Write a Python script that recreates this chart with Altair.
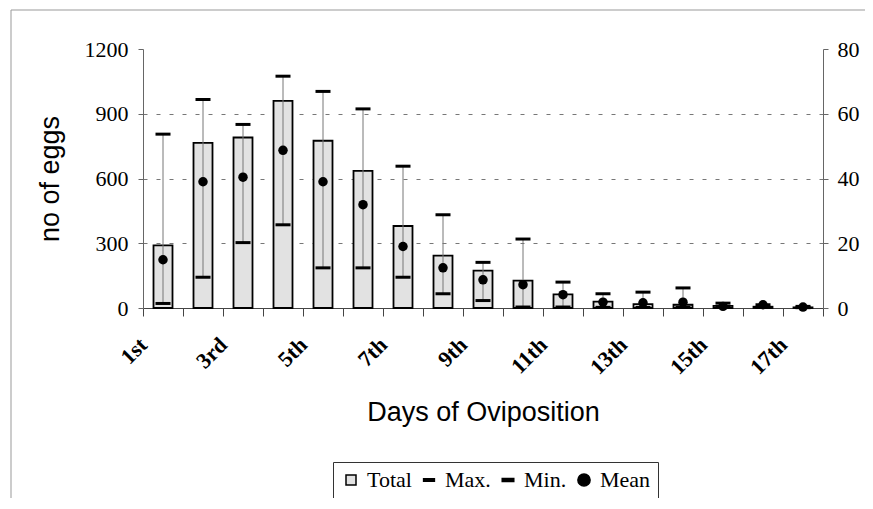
import json
import altair as alt
import pandas as pd

days = ["1st", "2nd", "3rd", "4th", "5th", "6th", "7th", "8th", "9th", "10th",
        "11th", "12th", "13th", "14th", "15th", "16th", "17th"]
shown_labels = ["1st", "3rd", "5th", "7th", "9th", "11th", "13th", "15th", "17th"]
total = [290, 765, 790, 960, 775, 635, 380, 243, 173, 127, 63, 30, 18, 15, 10, 6, 3]
max_vals = [53.7, 64.4, 56.7, 71.6, 66.9, 61.5, 43.8, 28.8, 14.1, 21.3, 8.0, 4.4, 4.9, 6.2, 1.5, 1.0, 0.5]
min_vals = [1.4, 9.5, 20.2, 25.7, 12.4, 12.4, 9.5, 4.4, 2.3, 0.3, 0.3, 0.2, 0.2, 0.2, 0.3, 0.2, 0.1]
mean_vals = [14.9, 39.0, 40.4, 48.7, 39.0, 31.9, 19.0, 12.4, 8.7, 7.2, 4.1, 1.8, 1.6, 1.8, 0.5, 1.0, 0.3]
legend_series = ["Total", "Max.", "Min.", "Mean"]
left_ticks = [0, 300, 600, 900, 1200]
right_ticks = [0, 20, 40, 60, 80]

df = pd.DataFrame({"day": days, "total": total, "max": max_vals,
                   "min": min_vals, "mean": mean_vals})

label_expr = f"indexof({json.dumps(shown_labels)}, datum.value) >= 0 ? datum.value : ''"

x_enc = alt.X(
    "day:N", sort=days,
    scale=alt.Scale(paddingInner=0, paddingOuter=0),
    axis=alt.Axis(
        title="Days of Oviposition", labelExpr=label_expr,
        labelAngle=-45, labelAlign="right", labelBaseline="middle",
        labelOffset=-20, labelPadding=25, ticks=True, tickBand="extent", tickExtra=True,
        tickSize=8, domainColor="#444", tickColor="#444", tickWidth=1,
        labelFont="Liberation Serif", labelFontWeight="bold", labelFontSize=22,
        labelColor="black",
        titleFont="Liberation Sans", titleFontSize=27, titleFontWeight="normal",
        titleColor="black", titlePadding=21,
    ),
)

bars = alt.Chart(df).mark_bar(size=19, fill="#e2e2e2", stroke="black", strokeWidth=1.8).encode(
    x=x_enc,
    y=alt.Y("total:Q", scale=alt.Scale(domain=[0, 1200]),
            axis=alt.Axis(
                values=left_ticks, format="d", title="no of eggs", grid=True,
                gridDash=[4, 9], gridColor="#777",
                gridOpacity=alt.condition("datum.value >= 1200 || datum.value <= 0", alt.value(0), alt.value(1)),
                tickSize=5, labelPadding=10, domainColor="#666", tickColor="#666",
                labelFont="Liberation Serif", labelFontSize=22, labelColor="black",
                titleFont="Liberation Sans", titleFontSize=27, titleFontWeight="normal",
                titleColor="black", titlePadding=20,
            )),
)

right_axis = alt.Axis(values=right_ticks, title=None, orient="right", grid=False,
                      tickSize=5, labelPadding=9, domainColor="#666", tickColor="#666",
                      labelFont="Liberation Serif", labelFontSize=22, labelColor="black")
rscale = alt.Scale(domain=[0, 80])

hilo = alt.Chart(df).mark_rule(color="#777", strokeWidth=1).encode(
    x=x_enc,
    y=alt.Y("min:Q", scale=rscale, axis=right_axis),
    y2="max:Q",
)
max_tick = alt.Chart(df).mark_tick(color="black", size=15, thickness=3, opacity=1).encode(
    x=x_enc, y=alt.Y("max:Q", scale=rscale, axis=right_axis),
)
min_tick = alt.Chart(df).mark_tick(color="black", size=15, thickness=3, opacity=1).encode(
    x=x_enc, y=alt.Y("min:Q", scale=rscale, axis=right_axis),
)
mean_pts = alt.Chart(df).mark_circle(color="black", size=90, opacity=1).encode(
    x=x_enc, y=alt.Y("mean:Q", scale=rscale, axis=right_axis),
)
right_layer = alt.layer(hilo, max_tick, min_tick, mean_pts)

dash_path = "M-1,-0.24H1V0.24H-1Z"
legend_df = pd.DataFrame({"series": legend_series})
legend_layer = alt.Chart(legend_df).mark_point(filled=True, opacity=1, strokeWidth=1).encode(
    x=alt.value(-2000), y=alt.value(-2000),
    fill=alt.Fill("series:N", sort=legend_series,
                  scale=alt.Scale(domain=legend_series, range=["#e2e2e2", "black", "black", "black"]),
                  legend=alt.Legend(
                      title=None, orient="none", legendX=190, legendY=413,
                      direction="horizontal", columns=4, strokeColor="#333",
                      padding=7, columnPadding=6, labelOffset=5,
                      labelFont="Liberation Serif", labelFontSize=22, labelColor="black",
                      symbolOpacity=1,
                  )),
    stroke=alt.Stroke("series:N", sort=legend_series,
                      scale=alt.Scale(domain=legend_series, range=["black", "black", "black", "black"])),
    shape=alt.Shape("series:N", sort=legend_series,
                    scale=alt.Scale(domain=legend_series, range=["square", dash_path, dash_path, "circle"])),
    size=alt.Size("series:N", sort=legend_series,
                  scale=alt.Scale(domain=legend_series, range=[100, 150, 150, 70])),
)

frame_top = alt.Chart(alt.Data(values=[{}])).mark_rule(color="#999", strokeWidth=1, clip=False).encode(
    x=alt.value(-132), x2=alt.value(740), y=alt.value(-39))
frame_left = alt.Chart(alt.Data(values=[{}])).mark_rule(color="#999", strokeWidth=1, clip=False).encode(
    x=alt.value(-132), y=alt.value(-39), y2=alt.value(480))

chart = alt.layer(frame_top, frame_left, bars, right_layer, legend_layer).resolve_scale(
    y="independent"
).properties(
    width=680, height=259,
    autosize=alt.AutoSizeParams(type="none"),
    padding={"left": 135, "top": 41, "right": 42, "bottom": 190},
).configure_view(stroke=None)

chart.save("out.html", embed_options={"renderer": "svg", "actions": False})
